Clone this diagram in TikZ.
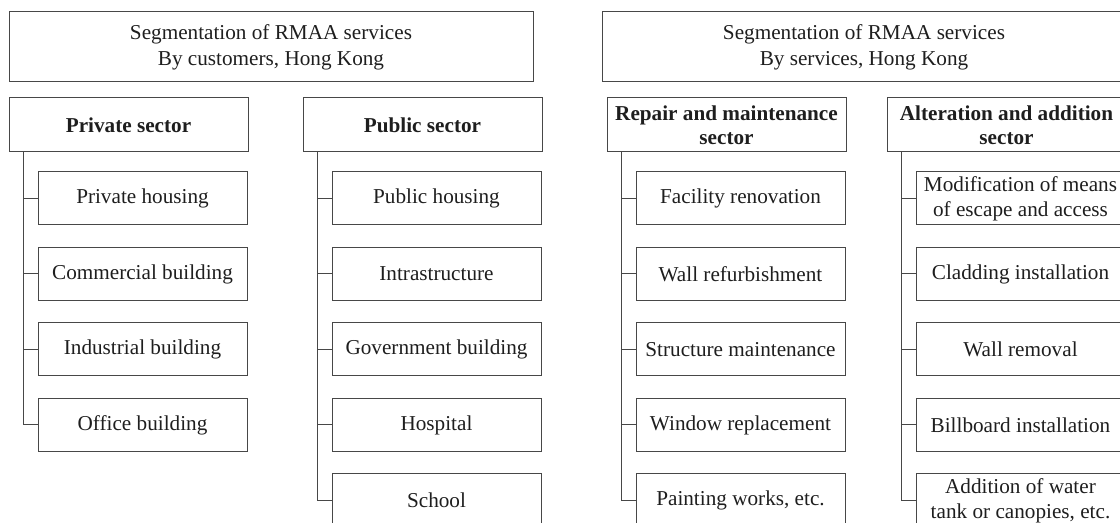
\documentclass[tikz,border=0pt]{standalone}
\usepackage{fontspec}
\setmainfont{Liberation Serif}
\usepackage{tikz}
\usetikzlibrary{trees}

\definecolor{linegray}{HTML}{474747}
\definecolor{textgray}{HTML}{1E1E1E}

\begin{document}
\begin{tikzpicture}[%
            x=0.5pt,
            y=-0.5pt,
            font=\fontsize{10.6}{12.6}\selectfont,
            text=textgray,
            box/.style={
                draw=linegray,
                line width=0.5pt,
                align=center,
                inner sep=0pt,
            },
            header/.style={box, minimum width=262pt, minimum height=35pt, font=\fontsize{10.6}{13}\selectfont},
            sector/.style={box, minimum width=119.5pt, minimum height=27pt, font=\fontsize{10.6}{12}\selectfont\bfseries},
            item/.style={box, minimum width=104.5pt, minimum height=26.5pt},
            level 1/.style={
                grow via three points={one child at (14,73.5) and two children at (14,73.5) and (14,149)},
            },
            edge from parent/.style={draw=linegray, line width=0.5pt},
            edge from parent path={([xshift=7.5pt]\tikzparentnode.south west) |- (\tikzchildnode.west)},
        ]
        \useasboundingbox (0,0) rectangle (1120,523);
        \clip (0,0) rectangle (1120,523);

        % headers
        \node[header] (bycust) at (271,47) {Segmentation of RMAA services\\By customers, Hong Kong};
        \node[header] (byserv) at (864,47) {Segmentation of RMAA services\\By services, Hong Kong};

        % by customers
        \node[sector] (private) at (128.5,125) {Private sector}
            child {node[item] (phousing) {Private housing}}
            child {node[item] (commercial) {Commercial building}}
            child {node[item] (industrial) {Industrial building}}
            child {node[item] (office) {Office building}}
        ;
        \node[sector] (public) at (422.5,125) {Public sector}
            child {node[item] (pubhousing) {Public housing}}
            child {node[item] (infra) {Intrastructure}}
            child {node[item] (government) {Government building}}
            child {node[item] (hospital) {Hospital}}
            child {node[item] (school) {School}}
        ;

        % by services
        \node[sector] (repair) at (726.5,125) {Repair and maintenance\\sector}
            child {node[item] (facility) {Facility renovation}}
            child {node[item] (wallref) {Wall refurbishment}}
            child {node[item] (structure) {Structure maintenance}}
            child {node[item] (window) {Window replacement}}
            child {node[item] (painting) {Painting works, etc.}}
        ;
        \node[sector] (alteration) at (1006.5,125) {Alteration and addition\\sector}
            child {node[item] (escape) {Modification of means\\of escape and access}}
            child {node[item] (cladding) {Cladding installation}}
            child {node[item] (wallrem) {Wall removal}}
            child {node[item] (billboard) {Billboard installation}}
            child {node[item] (watertank) {Addition of water\\tank or canopies, etc.}}
        ;
    \end{tikzpicture}
\end{document}
